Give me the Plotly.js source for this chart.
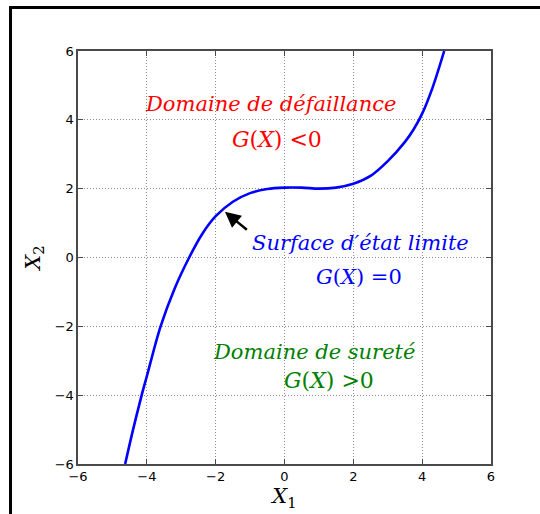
<!DOCTYPE html>
<html>
<head>
<meta charset="utf-8">
<script src="https://cdn.plot.ly/plotly-3.0.1.min.js"></script>
<style>html,body{margin:0;padding:0;background:#fff;}#chart{width:540px;height:514px;}</style>
</head>
<body>
<div id="chart"></div>
<script>
// Limit-state curve
const x1Values = [-4.63, -4.4, -4.15, -4.0, -3.6, -3.2, -2.77, -2.4, -2.0, -1.5, -1.0, -0.5, 0.0, 0.5, 1.0, 1.5, 2.0, 2.5, 3.0, 3.5, 3.75, 4.0, 4.3, 4.64];
const x2Values = [-6.0, -5.0, -4.0, -3.45, -2.0, -0.92, 0.0, 0.67, 1.2, 1.62, 1.87, 1.99, 2.03, 2.03, 2.0, 2.03, 2.14, 2.37, 2.8, 3.36, 3.72, 4.18, 4.93, 6.0];
const tickValues = [-6, -4, -2, 0, 2, 4, 6];
const tickLabels = ['\u22126', '\u22124', '\u22122', '0', '2', '4', '6'];

const serif = 'DejaVu Serif, serif';
const RED = '#ff0000', BLUE = '#0000ff', GREEN = '#008000';

const trace = {
  x: x1Values, y: x2Values, type: 'scatter', mode: 'lines',
  line: {color: BLUE, width: 2.6, shape: 'spline', smoothing: 1},
  hoverinfo: 'skip', showlegend: false
};

function txt(text, x, y, color, size) {
  return {text: text, x: x, y: y, xref: 'x', yref: 'y', showarrow: false,
    xanchor: 'center', yanchor: 'middle',
    font: {family: serif, size: size, color: color}};
}

const axisCommon = {
  range: [-6, 6], tickvals: tickValues, ticktext: tickLabels,
  showgrid: true, gridcolor: '#8c8c8c', griddash: '1px,2px', gridwidth: 1,
  zeroline: false, showline: true, linecolor: '#4a4a4a', linewidth: 1.6,
  mirror: 'ticks', ticks: 'inside', ticklen: 5, tickwidth: 1, tickcolor: '#4a4a4a',
  tickfont: {family: 'DejaVu Sans, sans-serif', size: 13, color: '#000'},
  automargin: false, fixedrange: true
};

const layout = {
  width: 540, height: 514,
  margin: {l: 78, r: 49, t: 51, b: 50},
  paper_bgcolor: '#fff', plot_bgcolor: '#fff',
  xaxis: Object.assign({}, axisCommon, {
    title: {text: '<i>X</i><sub>1</sub>', font: {family: serif, size: 21, color: '#000'}, standoff: 1}
  }),
  yaxis: Object.assign({}, axisCommon, {
    title: {text: '<i>X</i><sub>2</sub>', font: {family: serif, size: 21, color: '#000'}, standoff: 8}
  }),
  annotations: [
    txt('<i>Domaine de défaillance</i>', -0.40, 4.46, RED, 21),
    txt('<i>G</i>(<i>X</i>) &lt;0', -0.22, 3.44, RED, 22),
    txt('<i>Surface d\u2032état limite</i>', 2.22, 0.42, BLUE, 21),
    txt('<i>G</i>(<i>X</i>) =0', 2.16, -0.57, BLUE, 21),
    txt('<i>Domaine de sureté</i>', 0.87, -2.75, GREEN, 21),
    txt('<i>G</i>(<i>X</i>) &gt;0', 1.28, -3.56, GREEN, 22),
    {x: -1.73, y: 1.33, xref: 'x', yref: 'y', ax: -1.05, ay: 0.77, axref: 'x', ayref: 'y',
     showarrow: true, arrowhead: 2, arrowsize: 1.3, arrowwidth: 2.4, arrowcolor: '#000', text: ''}
  ],
  shapes: [
    {type: 'line', xref: 'paper', yref: 'paper', x0: -0.1634, x1: -0.1634, y0: 1.108, y1: -0.2,
     line: {color: '#000', width: 3}},
    {type: 'line', xref: 'paper', yref: 'paper', x0: -0.1670, x1: 1.2, y0: 1.1053, y1: 1.1053,
     line: {color: '#000', width: 3}}
  ]
};

Plotly.newPlot('chart', [trace], layout, {displayModeBar: false, staticPlot: true});
</script>
</body>
</html>
